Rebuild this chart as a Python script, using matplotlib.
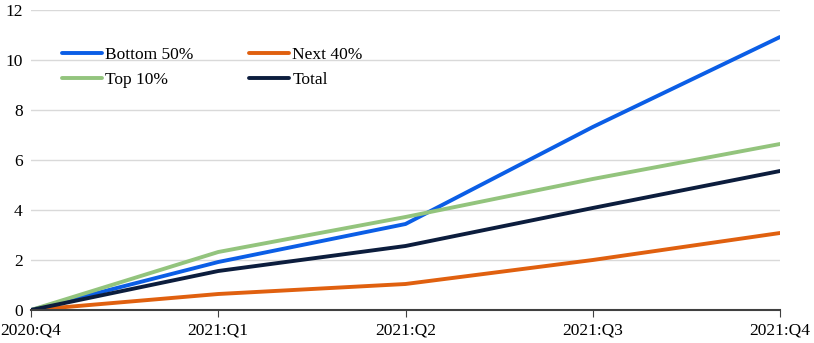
import matplotlib
matplotlib.use("Agg")
import matplotlib.pyplot as plt

plt.rcParams['font.family'] = ['Liberation Serif', 'DejaVu Serif']

quarters = ['2020:Q4', '2021:Q1', '2021:Q2', '2021:Q3', '2021:Q4']
bottom50 = [0, 1.92, 3.44, 7.32, 10.92]
next40 = [0, 0.64, 1.04, 2.0, 3.08]
top10 = [0, 2.32, 3.72, 5.24, 6.64]
total = [0, 1.56, 2.56, 4.08, 5.56]

series = [
    ('Bottom 50%', bottom50, '#0b5ee6'),
    ('Next 40%', next40, '#e0600f'),
    ('Top 10%', top10, '#93c47d'),
    ('Total', total, '#0c1d3d'),
]

fig = plt.figure(figsize=(8.14, 3.43), dpi=100)
ax = fig.add_axes([31 / 814, 33 / 343, 749 / 814, 300 / 343])

x = range(len(quarters))
lines = {}
for name, vals, col in series:
    lines[name], = ax.plot(x, vals, color=col, lw=2.8, label=name, solid_capstyle='round')

ax.set_xlim(0, len(quarters) - 1)
ax.set_ylim(0, 12)
ax.set_yticks(range(0, 13, 2))
ax.set_xticks(list(x))
ax.set_xticklabels(quarters)
ax.grid(axis='y', color='#d9d9d9', lw=1)
ax.set_axisbelow(True)
for s in ['left', 'right', 'top']:
    ax.spines[s].set_visible(False)
ax.spines['bottom'].set_color('#404040')
ax.spines['bottom'].set_linewidth(1.5)
ax.tick_params(axis='y', length=0, labelsize=12.5, pad=6)
ax.tick_params(axis='x', length=5, color='#404040', labelsize=12.5, pad=4)

# legend filled row by row: Bottom 50%, Next 40% / Top 10%, Total
order = ['Bottom 50%', 'Top 10%', 'Next 40%', 'Total']
ax.legend([lines[n] for n in order], order, loc='upper left',
          bbox_to_anchor=(0.02, 0.93), ncol=2, frameon=False,
          fontsize=12.5, handlelength=2.3, handletextpad=0.2, columnspacing=3.2,
          labelspacing=0.55)

fig.savefig('out.png', dpi=100)
